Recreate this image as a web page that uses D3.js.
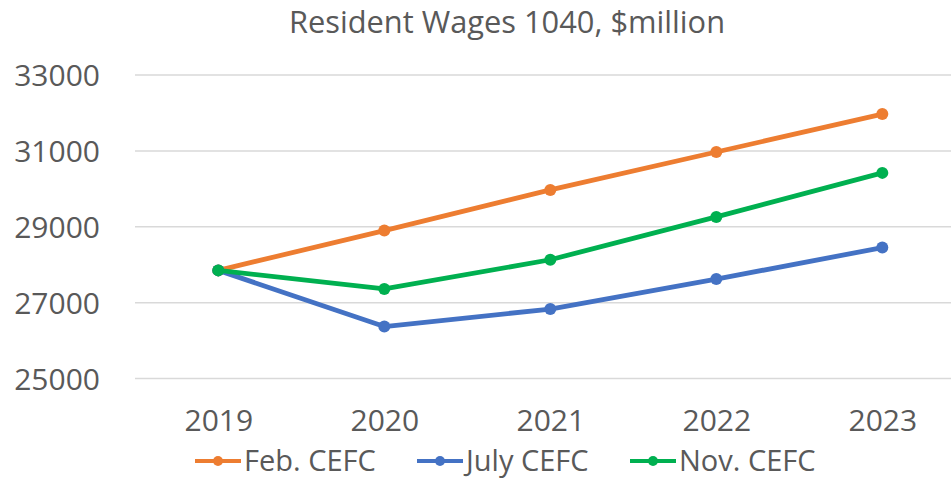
<!DOCTYPE html>
<html><head><meta charset="utf-8">
<script src="https://cdn.jsdelivr.net/npm/d3@7"></script>
<style>html,body{margin:0;padding:0;background:#fff;} svg{display:block;}</style>
</head><body>
<svg id="chart" width="951" height="479"></svg>
<script>
const years = ["2019","2020","2021","2022","2023"];
const febCEFC = [27850, 28900, 29970, 30970, 31970];
const julyCEFC = [27850, 26370, 26830, 27620, 28450];
const novCEFC = [27850, 27360, 28130, 29260, 30420];
const yTicks = [25000, 27000, 29000, 31000, 33000];
const seriesNames = ["Feb. CEFC", "July CEFC", "Nov. CEFC"];
const seriesColors = ["#ED7D31", "#4472C4", "#00B050"];
const title = "Resident Wages 1040, $million";

const series = [febCEFC, julyCEFC, novCEFC].map((v, i) => ({name: seriesNames[i], color: seriesColors[i], values: v}));
const font = "'Open Sans', sans-serif";
const textColor = "#595959";

const svg = d3.select("#chart");
const x = d3.scalePoint().domain(years).range([218.3, 882.3]);
const y = d3.scaleLinear().domain([25000, 33000]).range([378.5, 75]);

svg.append("text").attr("x", 507).attr("y", 33).attr("text-anchor", "middle")
  .style("font-family", font).style("font-size", "30.8px").attr("fill", textColor).text(title);

// grid
svg.append("g").selectAll("line").data(yTicks).join("line")
  .attr("x1", 135).attr("x2", 951)
  .attr("y1", d => y(d)).attr("y2", d => y(d))
  .attr("stroke", "#D9D9D9").attr("stroke-width", 1.5);

// y axis labels
const yAxis = svg.append("g").attr("transform", "translate(100,0)")
  .call(d3.axisLeft(y).tickValues(yTicks).tickFormat(d3.format("d")).tickSize(0).tickPadding(0));
yAxis.select(".domain").remove();
yAxis.selectAll("text").style("font-family", font).style("font-size", "30px").attr("fill", textColor)
  .attr("dy", "0.35em");

// x axis labels
const xAxis = svg.append("g").attr("transform", "translate(0,430.5)")
  .call(d3.axisBottom(x).tickSize(0).tickPadding(0));
xAxis.select(".domain").remove();
xAxis.selectAll("text").style("font-family", font).style("font-size", "30px").attr("fill", textColor)
  .attr("dy", null).attr("y", 0);

const line = d3.line().x((d, i) => x(years[i])).y(d => y(d));
const gS = svg.append("g");
series.forEach(s => {
  const g = gS.append("g");
  g.append("path").datum(s.values).attr("d", line).attr("fill", "none")
    .attr("stroke", s.color).attr("stroke-width", 4.8).attr("stroke-linejoin", "round");
  g.selectAll("circle").data(s.values).join("circle")
    .attr("cx", (d, i) => x(years[i])).attr("cy", d => y(d)).attr("r", 6).attr("fill", s.color);
});

// legend
const legendX = [195, 417, 630];
const leg = svg.append("g");
series.forEach((s, i) => {
  const g = leg.append("g").attr("transform", `translate(${legendX[i]},461)`);
  g.append("line").attr("x1", 0).attr("x2", 46).attr("stroke", s.color).attr("stroke-width", 4);
  g.append("circle").attr("cx", 23).attr("r", 5).attr("fill", s.color);
  g.append("text").attr("x", 49).attr("y", 9.5).style("font-family", font).style("font-size", "29px")
    .attr("fill", textColor).text(s.name);
});
</script>
</body></html>
